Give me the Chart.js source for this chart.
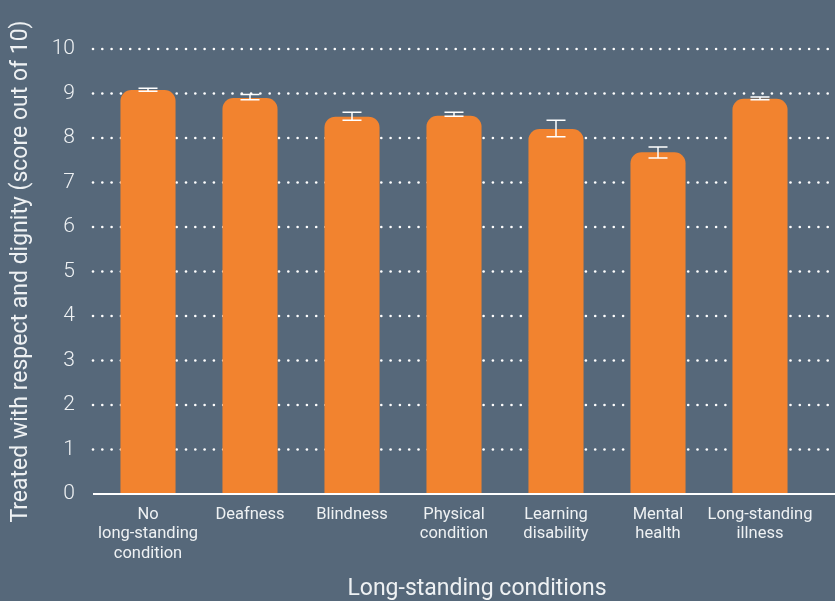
<!DOCTYPE html>
<html lang="en">
  <head>
    <meta charset="UTF-8" />
    <title>Respect and dignity by condition</title>
    <script src="https://cdn.jsdelivr.net/npm/chart.js"></script>
    <style>
      html, body { margin: 0; padding: 0; background: #56687a; }
      .wrap { width: 835px; height: 601px; position: relative; }
    </style>
  </head>
  <body>
    <div class="wrap">
      <canvas id="barChart"></canvas>
    </div>

    <script>
      // data
      var categories = [
        ["No", "long-standing", "condition"],
        ["Deafness"],
        ["Blindness"],
        ["Physical", "condition"],
        ["Learning", "disability"],
        ["Mental", "health"],
        ["Long-standing", "illness"],
      ];
      var scores = [9.08, 8.9, 8.48, 8.5, 8.2, 7.68, 8.88];
      var errLow = [9.05, 8.86, 8.4, 8.49, 8.03, 7.55, 8.86];
      var errHigh = [9.12, 8.98, 8.58, 8.58, 8.4, 7.8, 8.92];
      var yTicks = [0, 1, 2, 3, 4, 5, 6, 7, 8, 9, 10];
      var xTitle = "Long-standing conditions";

      var textColor = "#eef1f3";
      var fontFamily = "Roboto, 'Open Sans', sans-serif";

      // dotted grid + axis line, drawn under the bars
      var gridPlugin = {
        id: "dotGrid",
        beforeDatasetsDraw: function (chart) {
          var c = chart.ctx;
          var y = chart.scales.y;
          c.save();
          c.fillStyle = "#ffffff";
          yTicks.forEach(function (t) {
            if (t === 0) return;
            var py = y.getPixelForValue(t);
            for (var px = 93; px < chart.width; px += 9.3) {
              c.beginPath();
              c.arc(px, py, 1.3, 0, Math.PI * 2);
              c.fill();
            }
          });
          c.restore();
        },
        afterDatasetsDraw: function (chart) {
          var c = chart.ctx;
          var y = chart.scales.y;
          var x = chart.scales.x;
          c.save();
          // axis line
          c.strokeStyle = "#ffffff";
          c.lineWidth = 2;
          c.beginPath();
          c.moveTo(93, y.getPixelForValue(0));
          c.lineTo(chart.width, y.getPixelForValue(0));
          c.stroke();
          // error bars
          c.lineWidth = 1.5;
          c.strokeStyle = "#ffffff";
          for (var i = 0; i < scores.length; i++) {
            var cx = x.getPixelForValue(i);
            var lo = y.getPixelForValue(errLow[i]);
            var hi = y.getPixelForValue(errHigh[i]);
            c.beginPath();
            c.moveTo(cx, lo);
            c.lineTo(cx, hi);
            c.moveTo(cx - 9.5, lo);
            c.lineTo(cx + 9.5, lo);
            c.moveTo(cx - 9.5, hi);
            c.lineTo(cx + 9.5, hi);
            c.stroke();
          }
          // x axis title (sits a bit right of the plot centre in the original)
          c.fillStyle = textColor;
          c.font = "23px " + fontFamily;
          c.textAlign = "center";
          c.textBaseline = "middle";
          c.fillText(xTitle, 477, 589);
          c.restore();
        },
      };

      var ctx = document.getElementById("barChart").getContext("2d");
      var barChart = new Chart(ctx, {
        type: "bar",
        data: {
          labels: categories,
          datasets: [
            {
              label: "Score",
              data: scores,
              backgroundColor: "#f2832f",
              borderWidth: 0,
              borderRadius: { topLeft: 11, topRight: 11 },
              borderSkipped: "bottom",
              categoryPercentage: 1,
              barPercentage: 0.54,
            },
          ],
        },
        options: {
          responsive: true,
          maintainAspectRatio: false,
          animation: false,
          layout: {
            padding: { top: 49, right: 24, bottom: 0, left: 0 },
          },
          plugins: {
            legend: { display: false },
            tooltip: { enabled: false },
          },
          scales: {
            x: {
              grid: { display: false, drawTicks: false },
              border: { display: false },
              ticks: {
                color: textColor,
                font: { family: fontFamily, size: 16.5, lineHeight: 1.18 },
                padding: 11,
                maxRotation: 0,
                autoSkip: false,
              },
              afterFit: function (scale) {
                scale.height = 107;
              },
            },
            y: {
              min: 0,
              max: 10,
              afterBuildTicks: function (scale) {
                scale.ticks = yTicks.map(function (v) {
                  return { value: v };
                });
              },
              grid: { display: false, drawTicks: false },
              border: { display: false },
              ticks: {
                color: textColor,
                font: { family: fontFamily, size: 21, weight: "300" },
                padding: 22,
              },
              title: {
                display: true,
                text: "Treated with respect and dignity (score out of 10)",
                color: textColor,
                font: { family: fontFamily, size: 23 },
                padding: { top: 7, bottom: 0 },
              },
              afterFit: function (scale) {
                scale.width = 97;
              },
            },
          },
        },
        plugins: [gridPlugin],
      });
    </script>
  </body>
</html>
